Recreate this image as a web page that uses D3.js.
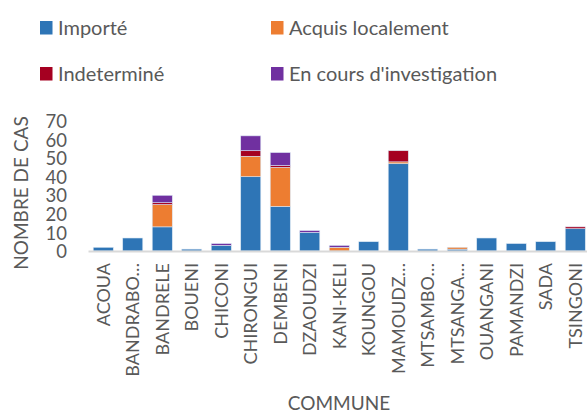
<!DOCTYPE html>
<html>
<head>
<meta charset="utf-8">
<script src="https://cdn.jsdelivr.net/npm/d3@7"></script>
<style>
  body { margin: 0; background: #fff; }
  svg text { font-family: Lato, "Noto Sans", sans-serif; fill: #595959; }
</style>
</head>
<body>
<div id="chart"></div>
<script>
// Cas par commune, empilés par origine

var communes = ["ACOUA", "BANDRABO…", "BANDRELE", "BOUENI", "CHICONI", "CHIRONGUI",
  "DEMBENI", "DZAOUDZI", "KANI-KELI", "KOUNGOU", "MAMOUDZ…", "MTSAMBO…",
  "MTSANGA…", "OUANGANI", "PAMANDZI", "SADA", "TSINGONI"];

var importe      = [2, 7, 13, 1, 3, 40, 24, 10, 0, 5, 47, 1, 1, 7, 4, 5, 12];
var acquis       = [0, 0, 12, 0, 0, 11, 21, 0, 2, 0, 1, 0, 1, 0, 0, 0, 0];
var indetermine  = [0, 0, 1, 0, 0, 3, 1, 0, 0, 0, 6, 0, 0, 0, 0, 0, 1];
var investigation = [0, 0, 4, 0, 1, 8, 7, 1, 1, 0, 0, 0, 0, 0, 0, 0, 0];

var seriesNames = ["Importé", "Acquis localement", "Indeterminé", "En cours d'investigation"];
var seriesColors = ["#2E75B6", "#ED7D31", "#A50021", "#7030A0"];
var yTicks = [0, 10, 20, 30, 40, 50, 60, 70];

var width = 587;
var height = 414;
var plotLeft = 88.5;
var plotRight = 590;
var plotTop = 121;
var plotBottom = 251;

var rows = communes.map(function(c, i) {
  return { commune: c, s0: importe[i], s1: acquis[i], s2: indetermine[i], s3: investigation[i] };
});
var keys = ["s0", "s1", "s2", "s3"];
var stacked = d3.stack().keys(keys)(rows);

var svg = d3.select("#chart").append("svg")
  .attr("width", width)
  .attr("height", height);

var x = d3.scaleBand()
  .domain(communes)
  .range([plotLeft, plotRight])
  .paddingInner(0.32)
  .paddingOuter(0.16);

var y = d3.scaleLinear()
  .domain([0, 70])
  .range([plotBottom, plotTop]);

// bars
svg.selectAll("g.layer")
  .data(stacked)
  .enter().append("g")
  .attr("class", "layer")
  .attr("fill", function(d, i) { return seriesColors[i]; })
  .selectAll("rect")
  .data(function(d) { return d; })
  .enter().append("rect")
  .filter(function(d) { return d[1] - d[0] > 0; })
  .attr("x", function(d) { return x(d.data.commune); })
  .attr("width", x.bandwidth())
  .attr("y", function(d) { return y(d[1]); })
  .attr("height", function(d) { return y(d[0]) - y(d[1]); })
  .attr("stroke", "#dbe7f3")
  .attr("stroke-width", 0.6);

// x axis line
svg.append("line")
  .attr("x1", plotLeft)
  .attr("x2", plotRight)
  .attr("y1", plotBottom + 0.5)
  .attr("y2", plotBottom + 0.5)
  .attr("stroke", "#d9d9d9")
  .attr("stroke-width", 2);

// y tick labels
var yAxis = d3.axisLeft(y).tickValues(yTicks).tickSize(0).tickPadding(0);
var gy = svg.append("g")
  .attr("transform", "translate(67,0)")
  .call(yAxis);
gy.select(".domain").remove();
gy.selectAll("text")
  .attr("font-size", 18.5)
  .attr("dy", "0.36em");

// x tick labels (rotated)
var xAxis = d3.axisBottom(x).tickSize(0).tickPadding(0);
var gx = svg.append("g")
  .attr("transform", "translate(0," + (plotBottom + 12) + ")")
  .call(xAxis);
gx.select(".domain").remove();
gx.selectAll("text")
  .attr("font-size", 18)
  .attr("transform", "rotate(-90)")
  .attr("text-anchor", "end")
  .attr("x", 0)
  .attr("y", 0)
  .attr("dy", "0.36em");

// axis titles
svg.append("text")
  .attr("x", 339)
  .attr("y", 410)
  .attr("text-anchor", "middle")
  .attr("font-size", 19)
  .text("COMMUNE");

svg.append("text")
  .attr("transform", "translate(28,193)rotate(-90)")
  .attr("text-anchor", "middle")
  .attr("font-size", 19)
  .text("NOMBRE DE CAS");

// legend
var legendPos = [[40, 21], [271, 21], [40, 67], [271, 67]];
var legend = svg.selectAll("g.legend")
  .data(seriesNames)
  .enter().append("g")
  .attr("class", "legend")
  .attr("transform", function(d, i) {
    return "translate(" + legendPos[i][0] + "," + legendPos[i][1] + ")";
  });

legend.append("rect")
  .attr("width", 12.5)
  .attr("height", 13.5)
  .attr("fill", function(d, i) { return seriesColors[i]; });

legend.append("text")
  .attr("x", 18)
  .attr("y", 14)
  .attr("font-size", 20)
  .text(function(d) { return d; });
</script>
</body>
</html>
